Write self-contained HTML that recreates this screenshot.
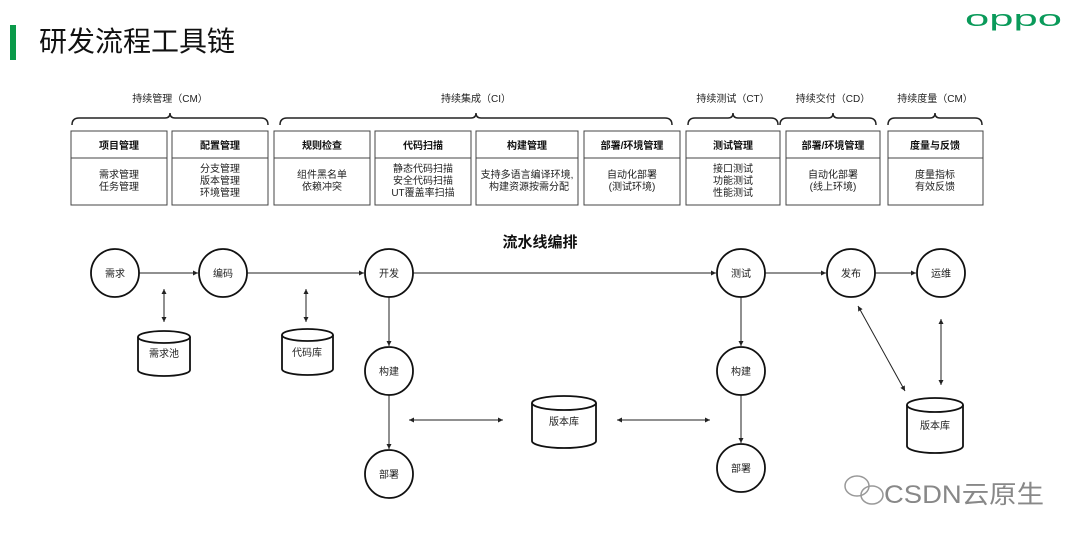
<!DOCTYPE html>
<html><head><meta charset="utf-8"><style>
body{margin:0;width:1080px;height:541px;background:#fff;overflow:hidden;font-family:"Liberation Sans","Noto Sans CJK SC",sans-serif}
</style></head><body>
<svg width="1080" height="541" xmlns="http://www.w3.org/2000/svg" font-family="Liberation Sans, Noto Sans CJK SC, sans-serif">
<defs><marker id="a" markerWidth="6" markerHeight="6" refX="5" refY="3" orient="auto-start-reverse"><path d="M0,0.5 L5,3 L0,5.5z" fill="#222"/></marker></defs>
<rect x="10" y="25" width="6" height="35" fill="#0a9a4a"/>
<text x="39" y="51" font-size="28" fill="#111">研发流程工具链</text>
<text x="965" y="26" font-size="22" fill="#0a9a5a" textLength="97" lengthAdjust="spacingAndGlyphs">oppo</text>
<g font-size="10" fill="#222" text-anchor="middle">
<text x="170" y="102">持续管理（CM）</text>
<text x="476" y="102">持续集成（CI）</text>
<text x="733" y="102">持续测试（CT）</text>
<text x="833" y="102">持续交付（CD）</text>
<text x="935" y="102">持续度量（CM）</text>
</g>
<g fill="none" stroke="#222" stroke-width="1.5">
<path d="M72,125 Q72,118 79,118 L165,118 Q170,118 170,113 Q170,118 175,118 L261,118 Q268,118 268,125"/>
<path d="M280,125 Q280,118 287,118 L471,118 Q476,118 476,113 Q476,118 481,118 L665,118 Q672,118 672,125"/>
<path d="M688,125 Q688,118 695,118 L728,118 Q733,118 733,113 Q733,118 738,118 L771,118 Q778,118 778,125"/>
<path d="M780,125 Q780,118 787,118 L828,118 Q833,118 833,113 Q833,118 838,118 L869,118 Q876,118 876,125"/>
<path d="M888,125 Q888,118 895,118 L930,118 Q935,118 935,113 Q935,118 940,118 L975,118 Q982,118 982,125"/>
</g>
<g fill="#fff" stroke="#444" stroke-width="1">
<rect x="71" y="131" width="96" height="74"/><line x1="71" y1="158" x2="167" y2="158"/>
<rect x="172" y="131" width="96" height="74"/><line x1="172" y1="158" x2="268" y2="158"/>
<rect x="274" y="131" width="96" height="74"/><line x1="274" y1="158" x2="370" y2="158"/>
<rect x="375" y="131" width="96" height="74"/><line x1="375" y1="158" x2="471" y2="158"/>
<rect x="476" y="131" width="102" height="74"/><line x1="476" y1="158" x2="578" y2="158"/>
<rect x="584" y="131" width="96" height="74"/><line x1="584" y1="158" x2="680" y2="158"/>
<rect x="686" y="131" width="94" height="74"/><line x1="686" y1="158" x2="780" y2="158"/>
<rect x="786" y="131" width="94" height="74"/><line x1="786" y1="158" x2="880" y2="158"/>
<rect x="888" y="131" width="95" height="74"/><line x1="888" y1="158" x2="983" y2="158"/>
</g>
<g font-size="10" fill="#111" text-anchor="middle" font-weight="bold">
<text x="119" y="149">项目管理</text><text x="220" y="149">配置管理</text><text x="322" y="149">规则检查</text>
<text x="423" y="149">代码扫描</text><text x="527" y="149">构建管理</text><text x="632" y="149">部署/环境管理</text>
<text x="733" y="149">测试管理</text><text x="833" y="149">部署/环境管理</text><text x="935" y="149">度量与反馈</text>
</g>
<g font-size="10" fill="#222" text-anchor="middle">
<text x="119" y="178">需求管理</text><text x="119" y="190">任务管理</text>
<text x="220" y="172">分支管理</text><text x="220" y="184">版本管理</text><text x="220" y="196">环境管理</text>
<text x="322" y="178">组件黑名单</text><text x="322" y="190">依赖冲突</text>
<text x="423" y="172">静态代码扫描</text><text x="423" y="184">安全代码扫描</text><text x="423" y="196">UT覆盖率扫描</text>
<text x="527" y="178">支持多语言编译环境,</text><text x="529" y="190">构建资源按需分配</text>
<text x="632" y="178">自动化部署</text><text x="632" y="190">(测试环境)</text>
<text x="733" y="172">接口测试</text><text x="733" y="184">功能测试</text><text x="733" y="196">性能测试</text>
<text x="833" y="178">自动化部署</text><text x="833" y="190">(线上环境)</text>
<text x="935" y="178">度量指标</text><text x="935" y="190">有效反馈</text>
</g>
<text x="540" y="247" font-size="15" font-weight="bold" text-anchor="middle" fill="#111">流水线编排</text>
<g stroke="#222" stroke-width="1" fill="none" marker-end="url(#a)">
<line x1="139" y1="273" x2="198" y2="273"/>
<line x1="247" y1="273" x2="364" y2="273"/>
<line x1="413" y1="273" x2="716" y2="273"/>
<line x1="765" y1="273" x2="826" y2="273"/>
<line x1="875" y1="273" x2="916" y2="273"/>
<line x1="389" y1="297" x2="389" y2="346"/>
<line x1="389" y1="395" x2="389" y2="449"/>
<line x1="741" y1="297" x2="741" y2="346"/>
<line x1="741" y1="395" x2="741" y2="443"/>
<line x1="164" y1="289" x2="164" y2="322" marker-start="url(#a)"/>
<line x1="306" y1="289" x2="306" y2="322" marker-start="url(#a)"/>
<line x1="409" y1="420" x2="503" y2="420" marker-start="url(#a)"/>
<line x1="617" y1="420" x2="710" y2="420" marker-start="url(#a)"/>
<line x1="858" y1="306" x2="905" y2="391" marker-start="url(#a)"/>
<line x1="941" y1="319" x2="941" y2="385" marker-start="url(#a)"/>
</g>
<g stroke="#111" stroke-width="1.8" fill="#fff">
<circle cx="115" cy="273" r="24"/><circle cx="223" cy="273" r="24"/><circle cx="389" cy="273" r="24"/>
<circle cx="741" cy="273" r="24"/><circle cx="851" cy="273" r="24"/><circle cx="941" cy="273" r="24"/>
<circle cx="389" cy="371" r="24"/><circle cx="389" cy="474" r="24"/>
<circle cx="741" cy="371" r="24"/><circle cx="741" cy="468" r="24"/>
</g>
<g stroke="#111" stroke-width="1.8" fill="#fff">
<path d="M138,337 L138,370 A26,6 0 0 0 190,370 L190,337"/><ellipse cx="164" cy="337" rx="26" ry="6"/>
<path d="M282,335 L282,369 A25.5,6 0 0 0 333,369 L333,335"/><ellipse cx="307.5" cy="335" rx="25.5" ry="6"/>
<path d="M532,403 L532,441 A32,7 0 0 0 596,441 L596,403"/><ellipse cx="564" cy="403" rx="32" ry="7"/>
<path d="M907,405 L907,446 A28,7 0 0 0 963,446 L963,405"/><ellipse cx="935" cy="405" rx="28" ry="7"/>
</g>
<g font-size="10" fill="#222" text-anchor="middle">
<text x="115" y="277">需求</text><text x="223" y="277">编码</text><text x="389" y="277">开发</text>
<text x="741" y="277">测试</text><text x="851" y="277">发布</text><text x="941" y="277">运维</text>
<text x="389" y="375">构建</text><text x="389" y="478">部署</text><text x="741" y="375">构建</text><text x="741" y="472">部署</text>
<text x="164" y="357">需求池</text><text x="307" y="356">代码库</text><text x="564" y="425">版本库</text><text x="935" y="429">版本库</text>
</g>
<g fill="none" stroke="#999" stroke-width="1.5">
<ellipse cx="857" cy="486" rx="12" ry="10"/><ellipse cx="872" cy="495" rx="11" ry="9"/>
</g>
<text x="884" y="503" font-size="25" fill="#888" textLength="160" lengthAdjust="spacingAndGlyphs">CSDN云原生</text>
</svg>
</body></html>
